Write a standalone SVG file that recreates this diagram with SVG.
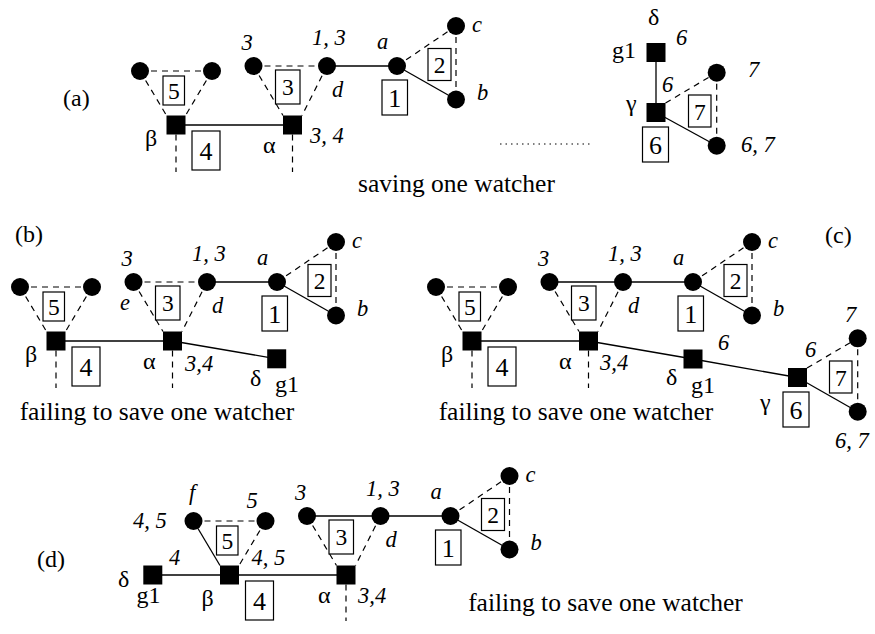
<svg xmlns="http://www.w3.org/2000/svg" width="875" height="634" viewBox="0 0 875 634">
<style>
.n{fill:#000}
.bx{fill:#fff;stroke:#000;stroke-width:1.2}
.s{stroke:#000;stroke-width:1.3;fill:none}
.d{stroke:#000;stroke-width:1.2;stroke-dasharray:6 5;fill:none}
.dot{stroke:#000;stroke-width:1.2;stroke-dasharray:1.5 4;fill:none}
text{font-family:"Liberation Serif",serif;fill:#000}
.l{font-style:italic;font-size:22.5px}
.g{font-size:24px}
.b{font-size:23.5px;text-anchor:middle}
.B{font-size:26px;text-anchor:middle}
.cap{font-size:25.5px;text-anchor:middle}
.p{font-size:24px}
</style>
<rect width="875" height="634" fill="#fff"/>
<g id="connectors">
<line class="d" x1="140" y1="71" x2="212" y2="71"/>
<line class="d" x1="140" y1="71" x2="166.5" y2="115.5"/>
<line class="d" x1="212" y1="71" x2="185.5" y2="115.5"/>
<line class="s" x1="176" y1="125" x2="292.5" y2="125"/>
<line class="d" x1="176" y1="134.5" x2="176" y2="172"/>
<line class="d" x1="292.5" y1="134.5" x2="292.5" y2="172"/>
<line class="d" x1="253.5" y1="66" x2="327" y2="66"/>
<line class="d" x1="253.5" y1="66" x2="283" y2="115.5"/>
<line class="d" x1="327" y1="66" x2="302" y2="115.5"/>
<line class="s" x1="327" y1="66" x2="397" y2="66"/>
<line class="s" x1="397" y1="66" x2="456" y2="99.5"/>
<line class="d" x1="397" y1="66" x2="456" y2="26"/>
<line class="d" x1="456" y1="26" x2="456" y2="99.5"/>
<line class="s" x1="656" y1="52.5" x2="656" y2="112.5"/>
<line class="d" x1="665.5" y1="103" x2="716.7" y2="72.7"/>
<line class="s" x1="656" y1="112.5" x2="716.7" y2="145.7"/>
<line class="d" x1="716.7" y1="72.7" x2="716.7" y2="145.7"/>
<line class="dot" x1="500" y1="144" x2="590" y2="144"/>
<line class="d" x1="20" y1="287" x2="92" y2="287"/>
<line class="d" x1="20" y1="287" x2="46.5" y2="331.5"/>
<line class="d" x1="92" y1="287" x2="65.5" y2="331.5"/>
<line class="s" x1="56" y1="341" x2="172.5" y2="341"/>
<line class="d" x1="56" y1="350.5" x2="56" y2="388"/>
<line class="d" x1="172.5" y1="350.5" x2="172.5" y2="388"/>
<line class="d" x1="133.5" y1="282" x2="207" y2="282"/>
<line class="d" x1="133.5" y1="282" x2="163" y2="331.5"/>
<line class="d" x1="207" y1="282" x2="182" y2="331.5"/>
<line class="s" x1="207" y1="282" x2="277" y2="282"/>
<line class="s" x1="277" y1="282" x2="336" y2="315.5"/>
<line class="d" x1="277" y1="282" x2="336" y2="242"/>
<line class="d" x1="336" y1="242" x2="336" y2="315.5"/>
<line class="s" x1="172.5" y1="341" x2="276.7" y2="358.8"/>
<line class="d" x1="436" y1="287" x2="508" y2="287"/>
<line class="d" x1="436" y1="287" x2="462.5" y2="331.5"/>
<line class="d" x1="508" y1="287" x2="481.5" y2="331.5"/>
<line class="s" x1="472" y1="341" x2="588.5" y2="341"/>
<line class="d" x1="472" y1="350.5" x2="472" y2="388"/>
<line class="d" x1="588.5" y1="350.5" x2="588.5" y2="388"/>
<line class="s" x1="549.5" y1="282" x2="623" y2="282"/>
<line class="d" x1="549.5" y1="282" x2="579" y2="331.5"/>
<line class="d" x1="623" y1="282" x2="598" y2="331.5"/>
<line class="s" x1="623" y1="282" x2="693" y2="282"/>
<line class="s" x1="693" y1="282" x2="752" y2="315.5"/>
<line class="d" x1="693" y1="282" x2="752" y2="242"/>
<line class="d" x1="752" y1="242" x2="752" y2="315.5"/>
<polyline class="s" points="588.5,341 693,359 797.5,377.5"/>
<line class="d" x1="807" y1="368" x2="857.7" y2="338.3"/>
<line class="s" x1="797.5" y1="377.5" x2="857.7" y2="411.7"/>
<line class="d" x1="857.7" y1="338.3" x2="857.7" y2="411.7"/>
<line class="d" x1="193.5" y1="521" x2="265.5" y2="521"/>
<line class="s" x1="193.5" y1="521" x2="220" y2="565.5"/>
<line class="d" x1="265.5" y1="521" x2="239" y2="565.5"/>
<line class="s" x1="152.8" y1="575" x2="346" y2="575"/>
<line class="d" x1="346" y1="584.5" x2="346" y2="621"/>
<line class="s" x1="307" y1="516" x2="380.5" y2="516"/>
<line class="d" x1="307" y1="516" x2="336.5" y2="565.5"/>
<line class="d" x1="380.5" y1="516" x2="355.5" y2="565.5"/>
<line class="s" x1="380.5" y1="516" x2="450.5" y2="516"/>
<line class="s" x1="450.5" y1="516" x2="509.5" y2="549.5"/>
<line class="d" x1="450.5" y1="516" x2="509.5" y2="476"/>
<line class="d" x1="509.5" y1="476" x2="509.5" y2="549.5"/>
</g>
<g id="nodes">
<text class="p" x="63" y="106">(a)</text>
<g id="a-l1"><circle class="n" cx="140" cy="71" r="9"/></g>
<g id="a-l2"><circle class="n" cx="212" cy="71" r="9"/></g>
<g id="a-beta"><rect class="n" x="166.5" y="115.5" width="19" height="19"/><text class="g" x="145" y="146">β</text></g>
<g id="a-alpha"><rect class="n" x="283" y="115.5" width="19" height="19"/><text class="g" x="263" y="153">α</text><text class="l" x="310" y="143">3, 4</text></g>
<g id="a-c3"><circle class="n" cx="253.5" cy="66" r="9"/><text class="l" x="241.5" y="50">3</text></g>
<g id="a-d"><circle class="n" cx="327" cy="66" r="9"/><text class="l" x="312" y="45">1, 3</text><text class="l" x="332" y="97">d</text></g>
<g id="a-a"><circle class="n" cx="397" cy="66" r="9"/><text class="l" x="377" y="49">a</text></g>
<g id="a-c"><circle class="n" cx="456" cy="26" r="9"/><text class="l" x="472" y="32">c</text></g>
<g id="a-b"><circle class="n" cx="456" cy="99.5" r="9"/><text class="l" x="477" y="100">b</text></g>
<g id="a-box5"><rect class="bx" x="163" y="76" width="21.5" height="29"/><text class="b" x="173.8" y="98.5">5</text></g>
<g id="a-box3"><rect class="bx" x="275.5" y="70" width="24.5" height="34"/><text class="b" x="287.8" y="95">3</text></g>
<g id="a-box4"><rect class="bx" x="192" y="131" width="28" height="39"/><text class="B" x="206" y="159.5">4</text></g>
<g id="a-box1"><rect class="bx" x="382" y="80" width="25.5" height="35"/><text class="B" x="394.8" y="106.5">1</text></g>
<g id="a-box2"><rect class="bx" x="428" y="48.5" width="23" height="32"/><text class="b" x="439.5" y="72.5">2</text></g>
<g id="a-delta"><rect class="n" x="646.5" y="43" width="19" height="19"/><text class="g" x="648" y="25">δ</text><text class="g" x="612" y="58">g1</text><text class="l" x="676" y="45">6</text></g>
<g id="a-gamma"><rect class="n" x="646.5" y="103" width="19" height="19"/><text class="g" x="626" y="111">γ</text><text class="l" x="662" y="92">6</text></g>
<g id="a-c7"><circle class="n" cx="716.7" cy="72.7" r="9"/><text class="l" x="748" y="77">7</text></g>
<g id="a-c67"><circle class="n" cx="716.7" cy="145.7" r="9"/><text class="l" x="741" y="152">6, 7</text></g>
<g id="a-box7"><rect class="bx" x="688.5" y="95" width="22.5" height="32"/><text class="b" x="699.8" y="119.5">7</text></g>
<g id="a-box6"><rect class="bx" x="642.5" y="127" width="26" height="35"/><text class="B" x="655.5" y="153.5">6</text></g>
<text class="cap" x="456.5" y="192">saving one watcher</text>
<text class="p" x="15" y="242">(b)</text>
<g id="b-l1"><circle class="n" cx="20" cy="287" r="9"/></g>
<g id="b-l2"><circle class="n" cx="92" cy="287" r="9"/></g>
<g id="b-beta"><rect class="n" x="46.5" y="331.5" width="19" height="19"/><text class="g" x="25" y="362">β</text></g>
<g id="b-alpha"><rect class="n" x="163" y="331.5" width="19" height="19"/><text class="g" x="143" y="369">α</text><text class="l" x="185" y="371">3,4</text></g>
<g id="b-e"><circle class="n" cx="133.5" cy="282" r="9"/><text class="l" x="121.5" y="266">3</text><text class="l" x="120" y="310">e</text></g>
<g id="b-d"><circle class="n" cx="207" cy="282" r="9"/><text class="l" x="192" y="261">1, 3</text><text class="l" x="212" y="313">d</text></g>
<g id="b-a"><circle class="n" cx="277" cy="282" r="9"/><text class="l" x="257" y="265">a</text></g>
<g id="b-c"><circle class="n" cx="336" cy="242" r="9"/><text class="l" x="352" y="248">c</text></g>
<g id="b-b"><circle class="n" cx="336" cy="315.5" r="9"/><text class="l" x="357" y="316">b</text></g>
<g id="b-delta"><rect class="n" x="267.2" y="349.3" width="19" height="19"/><text class="g" x="250" y="386">δ</text><text class="g" x="275" y="392">g1</text></g>
<g id="b-box5"><rect class="bx" x="43" y="292" width="21.5" height="29"/><text class="b" x="53.8" y="314.5">5</text></g>
<g id="b-box3"><rect class="bx" x="155.5" y="286" width="24.5" height="34"/><text class="b" x="167.8" y="311">3</text></g>
<g id="b-box4"><rect class="bx" x="72" y="347" width="28" height="39"/><text class="B" x="86" y="375.5">4</text></g>
<g id="b-box1"><rect class="bx" x="262" y="296" width="25.5" height="35"/><text class="B" x="274.8" y="322.5">1</text></g>
<g id="b-box2"><rect class="bx" x="308" y="264.5" width="23" height="32"/><text class="b" x="319.5" y="288.5">2</text></g>
<text class="cap" x="157" y="420">failing to save one watcher</text>
<text class="p" x="825" y="243">(c)</text>
<g id="c-l1"><circle class="n" cx="436" cy="287" r="9"/></g>
<g id="c-l2"><circle class="n" cx="508" cy="287" r="9"/></g>
<g id="c-beta"><rect class="n" x="462.5" y="331.5" width="19" height="19"/><text class="g" x="441" y="362">β</text></g>
<g id="c-alpha"><rect class="n" x="579" y="331.5" width="19" height="19"/><text class="g" x="559" y="369">α</text><text class="l" x="600" y="370">3,4</text></g>
<g id="c-c3"><circle class="n" cx="549.5" cy="282" r="9"/><text class="l" x="538" y="266">3</text></g>
<g id="c-d"><circle class="n" cx="623" cy="282" r="9"/><text class="l" x="608" y="261">1, 3</text><text class="l" x="628" y="313">d</text></g>
<g id="c-a"><circle class="n" cx="693" cy="282" r="9"/><text class="l" x="673" y="265">a</text></g>
<g id="c-c"><circle class="n" cx="752" cy="242" r="9"/><text class="l" x="768" y="248">c</text></g>
<g id="c-b"><circle class="n" cx="752" cy="315.5" r="9"/><text class="l" x="773" y="316">b</text></g>
<g id="c-delta"><rect class="n" x="683.5" y="349.5" width="19" height="19"/><text class="l" x="718" y="350">6</text><text class="g" x="666" y="385">δ</text><text class="g" x="691" y="393">g1</text></g>
<g id="c-gamma"><rect class="n" x="788" y="368" width="19" height="19"/><text class="l" x="805" y="357">6</text><text class="g" x="760" y="410">γ</text></g>
<g id="c-c7"><circle class="n" cx="857.7" cy="338.3" r="9"/><text class="l" x="845" y="322">7</text></g>
<g id="c-c67"><circle class="n" cx="857.7" cy="411.7" r="9"/><text class="l" x="835" y="448">6, 7</text></g>
<g id="c-box5"><rect class="bx" x="459" y="292" width="21.5" height="29"/><text class="b" x="469.8" y="314.5">5</text></g>
<g id="c-box3"><rect class="bx" x="571.5" y="286" width="24.5" height="34"/><text class="b" x="583.8" y="311">3</text></g>
<g id="c-box4"><rect class="bx" x="488" y="347" width="28" height="39"/><text class="B" x="502" y="375.5">4</text></g>
<g id="c-box1"><rect class="bx" x="678" y="296" width="25.5" height="35"/><text class="B" x="690.8" y="322.5">1</text></g>
<g id="c-box2"><rect class="bx" x="724" y="264.5" width="23" height="32"/><text class="b" x="735.5" y="288.5">2</text></g>
<g id="c-box7"><rect class="bx" x="829.5" y="361" width="22.5" height="32"/><text class="b" x="840.8" y="385.5">7</text></g>
<g id="c-box6"><rect class="bx" x="783" y="392" width="26" height="35"/><text class="B" x="796" y="418.5">6</text></g>
<text class="cap" x="576" y="420">failing to save one watcher</text>
<text class="p" x="37" y="567">(d)</text>
<g id="d-f"><circle class="n" cx="193.5" cy="521" r="9"/><text class="l" x="189" y="500">f</text><text class="l" x="133" y="528">4, 5</text></g>
<g id="d-l2"><circle class="n" cx="265.5" cy="521" r="9"/><text class="l" x="246.5" y="508">5</text></g>
<g id="d-delta"><rect class="n" x="143.3" y="565.5" width="19" height="19"/><text class="l" x="169" y="565">4</text><text class="g" x="118" y="587">δ</text><text class="g" x="136.5" y="603">g1</text></g>
<g id="d-beta"><rect class="n" x="220" y="565.5" width="19" height="19"/><text class="l" x="251.5" y="565">4, 5</text><text class="g" x="201.5" y="606">β</text></g>
<g id="d-alpha"><rect class="n" x="336.5" y="565.5" width="19" height="19"/><text class="g" x="318" y="603">α</text><text class="l" x="358" y="603">3,4</text></g>
<g id="d-c3"><circle class="n" cx="307" cy="516" r="9"/><text class="l" x="295" y="500">3</text></g>
<g id="d-d"><circle class="n" cx="380.5" cy="516" r="9"/><text class="l" x="366" y="496">1, 3</text><text class="l" x="385.5" y="547">d</text></g>
<g id="d-a"><circle class="n" cx="450.5" cy="516" r="9"/><text class="l" x="430.5" y="499">a</text></g>
<g id="d-c"><circle class="n" cx="509.5" cy="476" r="9"/><text class="l" x="525.5" y="482">c</text></g>
<g id="d-b"><circle class="n" cx="509.5" cy="549.5" r="9"/><text class="l" x="530.5" y="550">b</text></g>
<g id="d-box5"><rect class="bx" x="216.5" y="526" width="21.5" height="29"/><text class="b" x="227.3" y="548.5">5</text></g>
<g id="d-box3"><rect class="bx" x="329" y="520" width="24.5" height="34"/><text class="b" x="341.3" y="545">3</text></g>
<g id="d-box4"><rect class="bx" x="245.5" y="581" width="28" height="39"/><text class="B" x="259.5" y="609.5">4</text></g>
<g id="d-box1"><rect class="bx" x="435.5" y="530" width="25.5" height="35"/><text class="B" x="448.3" y="556.5">1</text></g>
<g id="d-box2"><rect class="bx" x="481.5" y="498.5" width="23" height="32"/><text class="b" x="493" y="522.5">2</text></g>
<text class="cap" x="605.5" y="611">failing to save one watcher</text>
</g>
</svg>
